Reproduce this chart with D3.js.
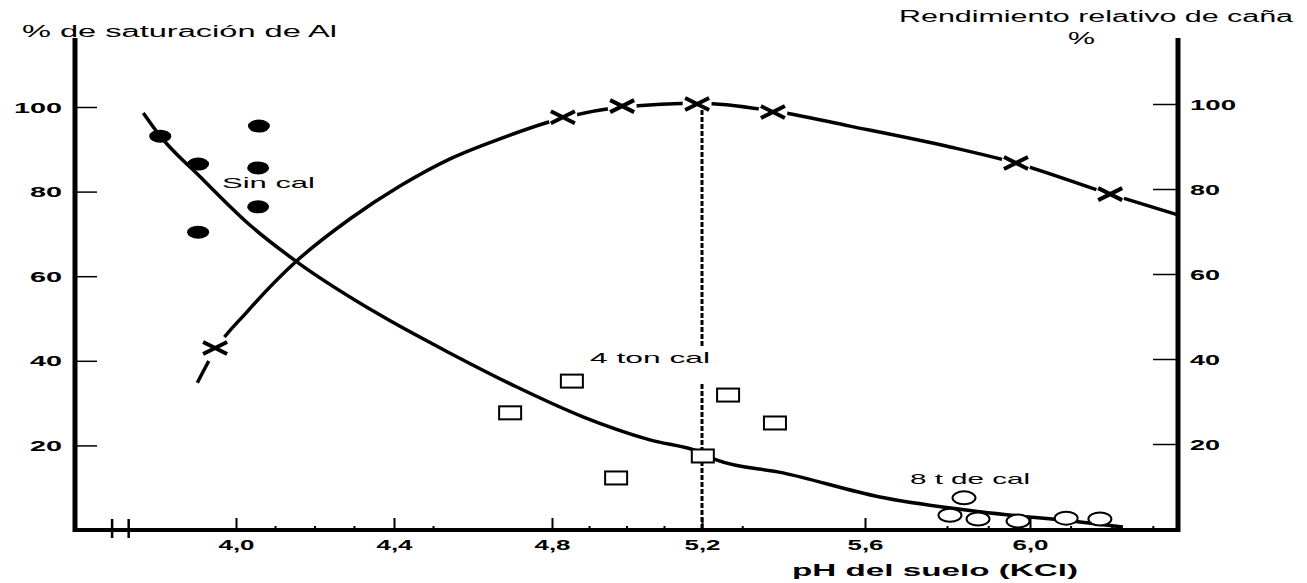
<!DOCTYPE html>
<html>
<head>
<meta charset="utf-8">
<script src="https://cdn.jsdelivr.net/npm/d3@7"></script>
<style>
  html, body { margin: 0; padding: 0; background: #fff; }
  svg { display: block; }
  text { font-family: "Liberation Sans", Arial, sans-serif; fill: #000; }
</style>
</head>
<body>
<svg id="chart" width="1307" height="583"></svg>
<script>
// ---------------- DATA ----------------
const xTicks = [4.0, 4.4, 4.8, 5.2, 5.6, 6.0];
const xTickLabels = ["4,0", "4,4", "4,8", "5,2", "5,6", "6,0"];
const xMinorTicks = [4.1, 4.2, 4.3, 4.5, 4.9, 5.0, 5.1, 5.3, 5.8, 5.9, 6.1, 6.2, 6.3];
const axisBreak = [3.686, 3.728];
const yLeftTicks = [20, 40, 60, 80, 100];
const yRightTicks = [20, 40, 60, 80, 100];

// % saturación de Al — Sin cal (filled circles)
const sinCalPH  = [3.808, 3.904, 4.058, 4.056, 4.056, 3.904];
const sinCalAl  = [93.1, 86.5, 95.5, 85.6, 76.4, 70.4];
// 4 ton cal (open squares)
const cal4PH = [4.853, 4.694, 5.264, 5.379, 5.202, 4.971];
const cal4Al = [35.2, 27.7, 31.9, 25.3, 17.5, 12.3];
// 8 t de cal (open circles)
const cal8PH = [5.840, 5.806, 5.874, 5.971, 6.088, 6.170];
const cal8Al = [7.6, 3.5, 2.6, 2.1, 2.8, 2.6];

// Rendimiento relativo (X markers)
const yieldPH  = [3.947, 4.829, 4.987, 5.187, 5.374, 5.966, 6.195];
const yieldVal = [42.6, 96.9, 99.5, 100.0, 98.1, 86.1, 78.8];

// Fitted curves
const alCurvePH  = [3.765, 3.808, 3.909, 4.035, 4.154, 4.365, 4.542, 4.711, 4.884, 5.061, 5.195, 5.237, 5.399, 5.636, 5.879, 6.122, 6.226];
const alCurveVal = [98.6, 93.1, 83.5, 72.1, 63.4, 50.8, 41.8, 33.8, 26.7, 21.3, 18.4, 16.5, 13.5, 7.8, 4.3, 1.9, 0.7];
const yieldCurvePH  = [3.902, 3.947, 4.028, 4.154, 4.289, 4.415, 4.542, 4.668, 4.829, 4.987, 5.195, 5.372, 5.563, 5.806, 5.966, 6.195, 6.36];
const yieldCurveVal = [34.4, 42.1, 51.1, 63.1, 73.0, 80.7, 87.1, 91.8, 96.7, 99.3, 100.2, 98.4, 94.8, 89.9, 86.1, 78.8, 73.9];

// Vertical reference at pH 5.2 (left-axis units)
const refPH = 5.2;
const refSegments = [[99.3, 43.5], [34.5, 0]];

// ---------------- LAYOUT ----------------
const svg = d3.select("#chart");
const X0 = 75, X1 = 1178, YB = 530, YT = 38;

const x = d3.scaleLinear()
  .domain([3.592, 4.0, 4.4, 4.8, 5.2, 5.6, 6.0, 6.36])
  .range([X0, 236, 394, 552, 702, 865, 1030, X1]);
const yL = d3.scaleLinear().domain([0, 100]).range([YB, 107]);
const yR = d3.scaleLinear().domain([0, 100]).range([529, 104]);

// ---------------- AXES ----------------
// bottom axis
const xAxis = d3.axisBottom(x).tickValues(xTicks).tickSize(0).tickFormat((d, i) => xTickLabels[i]);
const gx = svg.append("g").attr("transform", `translate(0,${YB})`).call(xAxis);
gx.select(".domain").remove();
gx.selectAll(".tick text")
  .attr("y", 20).attr("dy", 0)
  .attr("font-size", 14).attr("font-weight", "bold")
  .attr("textLength", 36).attr("lengthAdjust", "spacingAndGlyphs");
gx.selectAll(".tick").append("line")
  .attr("y1", 0).attr("y2", -12).attr("stroke", "#000").attr("stroke-width", 2);
svg.append("g").selectAll("line").data(xMinorTicks).join("line")
  .attr("x1", d => x(d)).attr("x2", d => x(d))
  .attr("y1", YB).attr("y2", YB - 4)
  .attr("stroke", "#000").attr("stroke-width", 2);
svg.append("line").attr("x1", X0).attr("x2", X1).attr("y1", YB).attr("y2", YB)
  .attr("stroke", "#000").attr("stroke-width", 4);
svg.append("g").selectAll("line").data(axisBreak).join("line")
  .attr("x1", d => x(d)).attr("x2", d => x(d))
  .attr("y1", YB - 11).attr("y2", YB + 8)
  .attr("stroke", "#000").attr("stroke-width", 2.5);

// left axis
const yAxisL = d3.axisLeft(yL).tickValues(yLeftTicks).tickSize(0).tickFormat(d3.format("d"));
const gyl = svg.append("g").attr("transform", `translate(${X0},0)`).call(yAxisL);
gyl.select(".domain").remove();
gyl.selectAll(".tick text")
  .attr("x", -13).attr("dy", "0.36em")
  .attr("font-size", 14).attr("font-weight", "bold")
  .attr("textLength", d => d >= 100 ? 48 : 32).attr("lengthAdjust", "spacingAndGlyphs");
gyl.selectAll(".tick").append("line")
  .attr("x1", 0).attr("x2", 22).attr("stroke", "#000").attr("stroke-width", 1.5);
svg.append("line").attr("x1", X0).attr("x2", X0).attr("y1", YT).attr("y2", YB + 2)
  .attr("stroke", "#000").attr("stroke-width", 5);

// right axis
const yAxisR = d3.axisRight(yR).tickValues(yRightTicks).tickSize(0).tickFormat(d3.format("d"));
const gyr = svg.append("g").attr("transform", `translate(${X1},0)`).call(yAxisR);
gyr.select(".domain").remove();
gyr.selectAll(".tick text")
  .attr("x", 12).attr("dy", "0.36em")
  .attr("font-size", 14).attr("font-weight", "bold")
  .attr("textLength", d => d >= 100 ? 46 : 30).attr("lengthAdjust", "spacingAndGlyphs");
gyr.selectAll(".tick").append("line")
  .attr("x1", 0).attr("x2", -25).attr("stroke", "#000").attr("stroke-width", 1.5);
svg.append("line").attr("x1", X1).attr("x2", X1).attr("y1", YT).attr("y2", YB + 2)
  .attr("stroke", "#000").attr("stroke-width", 5);

// ---------------- TITLES ----------------
function stretchedText(txt, xLeft, baseline, size, width, weight) {
  svg.append("text").attr("x", xLeft).attr("y", baseline)
    .attr("font-size", size).attr("font-weight", weight || "normal")
    .attr("textLength", width).attr("lengthAdjust", "spacingAndGlyphs")
    .text(txt);
}
stretchedText("% de saturación de Al", 22, 37, 16, 315);
stretchedText("Rendimiento relativo de caña", 899, 22, 16, 394);
stretchedText("%", 1068, 44, 16, 27);
stretchedText("pH del suelo (KCl)", 792, 576, 17, 286, "bold");
stretchedText("Sin cal", 222, 188, 15, 93);
stretchedText("4 ton cal", 590, 363, 15, 120);
stretchedText("8 t de cal", 910, 484, 15, 120);

// ---------------- CURVES ----------------
const alLine = d3.line().x(d => x(d[0])).y(d => yL(d[1])).curve(d3.curveMonotoneX);
const yLine  = d3.line().x(d => x(d[0])).y(d => yR(d[1])).curve(d3.curveMonotoneX);

svg.append("path").datum(d3.zip(alCurvePH, alCurveVal))
  .attr("d", alLine).attr("fill", "none").attr("stroke", "#000").attr("stroke-width", 3.5);
svg.append("path").datum(d3.zip(yieldCurvePH, yieldCurveVal))
  .attr("d", yLine).attr("fill", "none").attr("stroke", "#000").attr("stroke-width", 3.5);

// halos around X markers (breaks in the yield curve)
const yieldPts = d3.zip(yieldPH, yieldVal);
svg.append("g").selectAll("circle").data(yieldPts).join("circle")
  .attr("cx", d => x(d[0])).attr("cy", d => yR(d[1])).attr("r", 14.5).attr("fill", "#fff");

// vertical dashed reference at pH 5.2
svg.append("g").selectAll("line").data(refSegments).join("line")
  .attr("x1", x(refPH)).attr("x2", x(refPH))
  .attr("y1", d => yL(d[0])).attr("y2", d => yL(d[1]))
  .attr("stroke", "#000").attr("stroke-width", 3).attr("stroke-dasharray", "5,2");

// ---------------- MARKERS ----------------
// X markers
const xm = svg.append("g");
yieldPts.forEach(d => {
  const cx = x(d[0]), cy = yR(d[1]);
  xm.append("path")
    .attr("d", `M${cx - 12},${cy - 6}L${cx + 12},${cy + 6}M${cx - 12},${cy + 6}L${cx + 12},${cy - 6}`)
    .attr("stroke", "#000").attr("stroke-width", 4).attr("fill", "none");
});

// filled circles (Sin cal)
svg.append("g").selectAll("ellipse").data(d3.zip(sinCalPH, sinCalAl)).join("ellipse")
  .attr("cx", d => x(d[0])).attr("cy", d => yL(d[1]))
  .attr("rx", 11).attr("ry", 6.5).attr("fill", "#000");

// open squares (4 ton cal)
svg.append("g").selectAll("rect").data(d3.zip(cal4PH, cal4Al)).join("rect")
  .attr("x", d => x(d[0]) - 11).attr("y", d => yL(d[1]) - 6.5)
  .attr("width", 22).attr("height", 13)
  .attr("fill", "#fff").attr("stroke", "#000").attr("stroke-width", 2);

// open circles (8 t de cal)
svg.append("g").selectAll("ellipse").data(d3.zip(cal8PH, cal8Al)).join("ellipse")
  .attr("cx", d => x(d[0])).attr("cy", d => yL(d[1]))
  .attr("rx", 11.5).attr("ry", 6.5)
  .attr("fill", "#fff").attr("stroke", "#000").attr("stroke-width", 2);
</script>
</body>
</html>
